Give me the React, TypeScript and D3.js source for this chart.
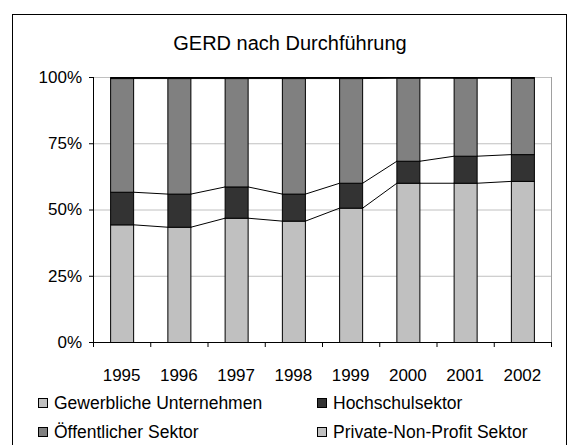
import React from "react";
import * as d3 from "d3";

const years = ["1995", "1996", "1997", "1998", "1999", "2000", "2001", "2002"];
const seriesNames = [
  "Gewerbliche Unternehmen",
  "Hochschulsektor",
  "Öffentlicher Sektor",
  "Private-Non-Profit Sektor",
];
const gewerbliche = [44.4, 43.5, 46.9, 45.8, 50.7, 60.1, 60.1, 60.8];
const hochschul = [12.3, 12.5, 11.8, 10.2, 9.4, 8.3, 10.2, 10.1];
const oeffentlich = [42.9, 43.6, 40.9, 43.6, 39.5, 31.3, 29.4, 28.8];
const privat = [0.4, 0.4, 0.4, 0.4, 0.4, 0.3, 0.3, 0.3];
const yTicks = [0, 0.25, 0.5, 0.75, 1];
const colors = ["#c0c0c0", "#333333", "#808080", "#c0c0c0"];

const W = 569;
const H = 445;
const plot = { left: 93, right: 551, top: 77, bottom: 342 };
const font = "Arial, 'Liberation Sans', sans-serif";

export default function App() {
  const table = years.map((y, i) => ({
    year: y,
    s0: gewerbliche[i],
    s1: hochschul[i],
    s2: oeffentlich[i],
    s3: privat[i],
  }));
  const keys = ["s0", "s1", "s2", "s3"];
  const stacked = d3.stack().keys(keys).offset(d3.stackOffsetExpand)(table as any);

  const x = d3
    .scaleBand()
    .domain(years)
    .range([plot.left, plot.right])
    .paddingInner(0.598)
    .paddingOuter(0.299);
  const y = d3.scaleLinear().domain([0, 1]).range([plot.bottom, plot.top]);
  const bw = x.bandwidth();
  const step = x.step();

  // series lines between neighbouring bars
  const seriesLines: string[] = [];
  stacked.forEach((s) => {
    for (let i = 0; i < years.length - 1; i++) {
      const x1 = x(years[i])! + bw;
      const x2 = x(years[i + 1])!;
      seriesLines.push(`M${x1},${y(s[i][1])}L${x2},${y(s[i + 1][1])}`);
    }
  });

  const legend = [
    { name: seriesNames[0], color: colors[0], lx: 38, ly: 403 },
    { name: seriesNames[1], color: colors[1], lx: 317, ly: 403 },
    { name: seriesNames[2], color: colors[2], lx: 38, ly: 432 },
    { name: seriesNames[3], color: colors[3], lx: 317, ly: 432 },
  ];

  return (
    <svg
      width={W}
      height={H}
      style={{ position: "absolute", left: 0, top: 0, background: "#fff" }}
      fontFamily={font}
    >
      <rect x={12.5} y={14.5} width={554} height={H} fill="#fff" stroke="#000" strokeWidth={1} />
      <text x={290} y={50} textAnchor="middle" fontSize={20} fill="#000">
        GERD nach Durchführung
      </text>

      {/* gridlines and plot border */}
      {yTicks.map((t) => (
        <line
          key={t}
          x1={plot.left}
          x2={plot.right}
          y1={y(t) + 0.5}
          y2={y(t) + 0.5}
          stroke="#c0c0c0"
          strokeWidth={1}
        />
      ))}
      <line
        x1={plot.right + 0.5}
        x2={plot.right + 0.5}
        y1={plot.top}
        y2={plot.bottom + 5}
        stroke="#a0a0a0"
      />

      {/* bars */}
      {stacked.map((s, si) => (
        <g key={si}>
          {s.map((d, i) => (
            <rect
              key={i}
              x={x(years[i])! + 0.5}
              y={y(d[1]) + 0.5}
              width={bw}
              height={Math.max(0, y(d[0]) - y(d[1]))}
              fill={colors[si]}
              stroke="#000"
              strokeWidth={1}
            />
          ))}
        </g>
      ))}

      {seriesLines.map((d, i) => (
        <path key={i} d={d} transform="translate(0.5,0.5)" fill="none" stroke="#000" strokeWidth={1} />
      ))}

      {/* y axis */}
      <line x1={plot.left + 0.5} x2={plot.left + 0.5} y1={plot.top} y2={plot.bottom + 5} stroke="#000" />
      {yTicks.map((t) => (
        <g key={t}>
          <line x1={plot.left - 4} x2={plot.left} y1={y(t) + 0.5} y2={y(t) + 0.5} stroke="#000" />
          <text
            x={plot.left - 11}
            y={y(t)}
            dy="0.35em"
            textAnchor="end"
            fontSize={17}
            fill="#000"
          >
            {d3.format(".0%")(t)}
          </text>
        </g>
      ))}

      {/* x axis */}
      <line x1={plot.left} x2={plot.right + 1} y1={plot.bottom + 0.5} y2={plot.bottom + 0.5} stroke="#000" />
      {d3.range(years.length + 1).map((i) => (
        <line
          key={i}
          x1={plot.left + i * step + 0.5}
          x2={plot.left + i * step + 0.5}
          y1={plot.bottom}
          y2={plot.bottom + 5}
          stroke="#000"
        />
      ))}
      {years.map((yr) => (
        <text
          key={yr}
          x={x(yr)! + bw / 2}
          y={375}
          dy="0.35em"
          textAnchor="middle"
          fontSize={17}
          fill="#000"
        >
          {yr}
        </text>
      ))}

      {/* legend */}
      {legend.map((l) => (
        <g key={l.name}>
          <rect x={l.lx + 0.5} y={l.ly - 4.5} width={9} height={9} fill={l.color} stroke="#000" />
          <text x={l.lx + 16} y={l.ly} dy="0.35em" fontSize={17.5} fill="#000">
            {l.name}
          </text>
        </g>
      ))}
    </svg>
  );
}
